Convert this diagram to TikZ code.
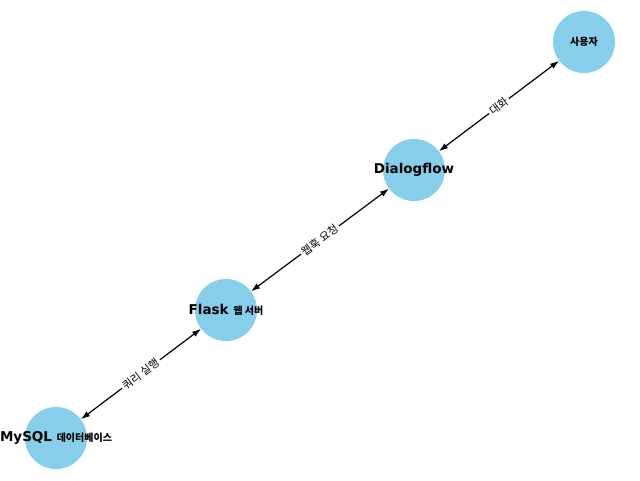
\documentclass[tikz,border=0pt]{standalone}
\usepackage{fontspec}
\setmainfont{DejaVu Sans}
\newfontfamily\krfont{Noto Sans CJK KR}
\usetikzlibrary{arrows.meta,positioning}
\definecolor{skyblue}{HTML}{87CEEB}
\tikzset{
    station/.style={circle, fill=skyblue, minimum size=62pt, inner sep=0pt},
    link/.style={{Latex[length=9pt,width=6pt]}-{Latex[length=9pt,width=6pt]}, line width=1.2pt},
    linklabel/.style={midway, sloped, fill=white, inner sep=2pt,
        font=\fontsize{11}{13}\selectfont\mdseries\krfont}
}
\newcommand{\kr}[1]{{\fontsize{10}{12}\selectfont\krfont #1}}
\begin{document}
\begin{tikzpicture}[x=1pt, y=-1pt, font=\fontsize{13.5}{16}\selectfont\bfseries]
    \useasboundingbox (0,0) rectangle (640,480);
    \node[station, label=center:{\kr{사용자}}] (user) at (584,42) {};
    \node[station, label=center:{Dialogflow}] (dialog) at (414,170) {};
    \node[station, label=center:{Flask \kr{웹 서버}}] (flask) at (226,310) {};
    \node[station, label=center:{MySQL \kr{데이터베이스}}] (db) at (56,438) {};
    \draw[link] (dialog) -- node[linklabel] {대화} (user);
    \draw[link] (flask) -- node[linklabel] {웹훅 요청} (dialog);
    \draw[link] (db) -- node[linklabel] {쿼리 실행} (flask);
\end{tikzpicture}
\end{document}
